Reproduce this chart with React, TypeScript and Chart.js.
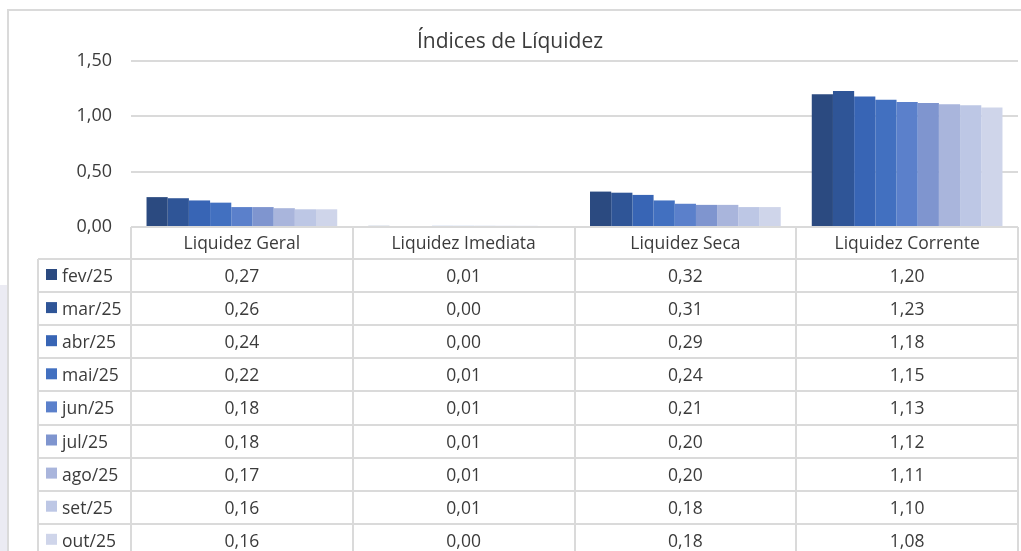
import React, { useEffect, useRef } from "react";
import { Chart, registerables } from "chart.js";

Chart.register(...registerables);

const title = "Índices de Líquidez";
const categories = ["Liquidez Geral", "Liquidez Imediata", "Liquidez Seca", "Liquidez Corrente"];
const months = ["fev/25", "mar/25", "abr/25", "mai/25", "jun/25", "jul/25", "ago/25", "set/25", "out/25"];
const liquidezGeral = [0.27, 0.26, 0.24, 0.22, 0.18, 0.18, 0.17, 0.16, 0.16];
const liquidezImediata = [0.01, 0.0, 0.0, 0.01, 0.01, 0.01, 0.01, 0.01, 0.0];
const liquidezSeca = [0.32, 0.31, 0.29, 0.24, 0.21, 0.2, 0.2, 0.18, 0.18];
const liquidezCorrente = [1.2, 1.23, 1.18, 1.15, 1.13, 1.12, 1.11, 1.1, 1.08];
const yTicks = [0, 0.5, 1.0, 1.5];
const colors = ["#2b4a80", "#2f5597", "#3865b5", "#4270c0", "#5b80cb", "#7f95cf", "#a9b5dc", "#bdc7e5", "#cfd5ea"];

const FONT = '"Open Sans", "DejaVu Sans", sans-serif';
const TEXT = "#3b3b3b";
const LINE = "#dadada";
const fmt = (v: number) => v.toFixed(2).replace(".", ",");

const series = [liquidezGeral, liquidezImediata, liquidezSeca, liquidezCorrente];

const decorPlugin = {
  id: "decor",
  beforeDraw(chart: any) {
    const ctx = chart.ctx;
    ctx.save();
    ctx.fillStyle = "#ffffff";
    ctx.fillRect(0, 0, chart.width, chart.height);
    ctx.fillStyle = "#ebebf3";
    ctx.fillRect(0, 285, 7, chart.height - 285);
    ctx.strokeStyle = LINE;
    ctx.lineWidth = 2;
    ctx.beginPath();
    ctx.moveTo(8, chart.height);
    ctx.lineTo(8, 10);
    ctx.lineTo(chart.width, 10);
    ctx.stroke();
    ctx.restore();
  },
  afterDraw(chart: any) {
    const ctx = chart.ctx;
    const { left, right, bottom } = chart.chartArea;
    const n = categories.length;
    const cw = (right - left) / n;
    const headerH = 32;
    const rowH = 33.1;
    const legendLeft = 38;
    const tableBottom = bottom + headerH + rowH * months.length;
    ctx.save();
    // title
    ctx.fillStyle = TEXT;
    ctx.font = `21px ${FONT}`;
    ctx.textAlign = "center";
    ctx.textBaseline = "alphabetic";
    ctx.fillText(title, 510, 48);

    // grid lines of table
    ctx.strokeStyle = LINE;
    ctx.lineWidth = 2;
    ctx.beginPath();
    ctx.moveTo(left, bottom);
    ctx.lineTo(right, bottom);
    for (let i = 0; i <= months.length; i++) {
      const y = Math.round(bottom + headerH + rowH * i);
      ctx.moveTo(legendLeft, y);
      ctx.lineTo(right, y);
    }
    for (let k = 0; k <= n; k++) {
      const x = Math.round(left + k * cw);
      ctx.moveTo(x, bottom);
      ctx.lineTo(x, tableBottom);
    }
    ctx.moveTo(legendLeft, bottom + headerH);
    ctx.lineTo(legendLeft, tableBottom);
    ctx.stroke();

    // header
    ctx.font = `17.5px ${FONT}`;
    ctx.fillStyle = TEXT;
    ctx.textAlign = "center";
    categories.forEach((c, k) => {
      ctx.fillText(c, left + k * cw + cw / 2, bottom + 22);
    });
    // rows
    months.forEach((m, i) => {
      const top = bottom + headerH + rowH * i;
      ctx.fillStyle = colors[i];
      ctx.fillRect(46, top + 10, 11, 11);
      ctx.fillStyle = TEXT;
      ctx.textAlign = "left";
      ctx.fillText(m, 62, top + 23);
      ctx.textAlign = "center";
      series.forEach((s, k) => {
        ctx.fillText(fmt(s[i]), left + k * cw + cw / 2, top + 23);
      });
    });
    ctx.restore();
  },
};

export default function App() {
  const ref = useRef<HTMLCanvasElement>(null);
  useEffect(() => {
    const canvas = ref.current!;
    const chart = new Chart(canvas, {
      type: "bar",
      data: {
        labels: categories,
        datasets: months.map((m, i) => ({
          label: m,
          data: series.map((s) => s[i]),
          backgroundColor: colors[i],
          borderWidth: 0,
          categoryPercentage: 0.86,
          barPercentage: 1.0,
        })),
      },
      options: {
        responsive: false,
        animation: false,
        devicePixelRatio: 1,
        layout: { padding: { top: 61, bottom: 551 - 227, left: 0, right: 3 } },
        plugins: {
          legend: { display: false },
          title: { display: false },
          tooltip: { enabled: false },
        },
        scales: {
          x: { display: false },
          y: {
            min: 0,
            max: 1.5,
            afterBuildTicks: (scale: any) => {
              scale.ticks = yTicks.map((v) => ({ value: v }));
            },
            afterFit: (scale: any) => {
              scale.width = 131;
            },
            border: { display: false },
            grid: { color: LINE, lineWidth: 2, drawTicks: false },
            ticks: {
              padding: 19,
              color: TEXT,
              font: { family: FONT, size: 18 },
              callback: (v: any) => fmt(Number(v)),
            },
          },
        },
      },
      plugins: [decorPlugin],
    });
    (document as any).fonts?.ready?.then(() => chart.update());
    return () => chart.destroy();
  }, []);
  return (
    <div style={{ position: "fixed", left: 0, top: 0, width: 1021, height: 551 }}>
      <canvas ref={ref} width={1021} height={551} style={{ display: "block" }} />
    </div>
  );
}
